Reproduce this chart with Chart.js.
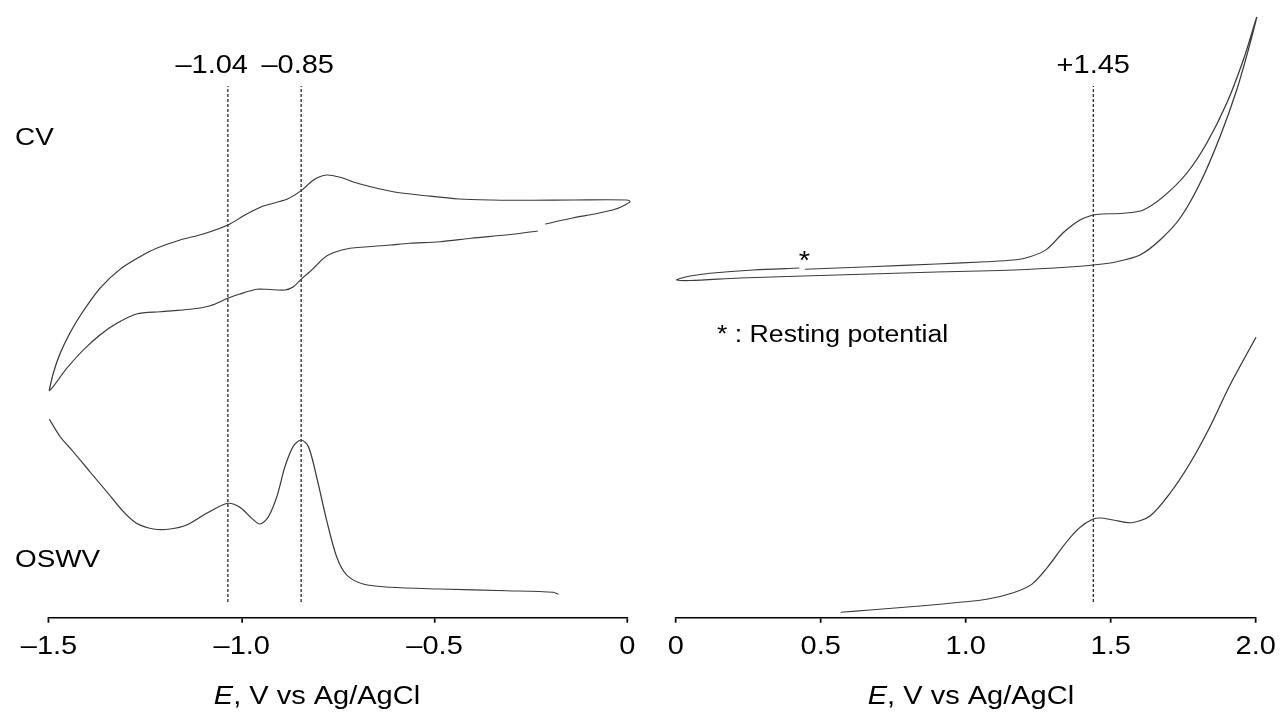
<!DOCTYPE html>
<html>
<head>
<meta charset="utf-8">
<script src="https://cdn.jsdelivr.net/npm/chart.js@4/dist/chart.umd.min.js"></script>
<style>
  body { margin: 0; background: #fff; }
  #wrap { position: relative; width: 1280px; height: 713px; }
  canvas { position: absolute; top: 0; }
</style>
</head>
<body>
<div id="wrap">
  <canvas id="neg" width="640" height="713" style="left:0;width:640px;height:713px"></canvas>
  <canvas id="pos" width="640" height="713" style="left:640px;width:640px;height:713px"></canvas>
</div>
<script>
// Valeurs (E en V vs Ag/AgCl, courant en unités arbitraires)
const cvNegE = [-0.232, -0.298, -0.405, -0.486, -0.564, -0.615, -0.719, -0.763, -0.788, -0.814, -0.846, -0.866, -0.888, -0.935, -0.961, -1.005, -1.036, -1.082, -1.134, -1.212, -1.273, -1.324, -1.368, -1.411, -1.454, -1.499,
  -1.489, -1.471, -1.446, -1.415, -1.368, -1.316, -1.264, -1.221, -1.160, -1.100, -1.036, -0.987, -0.944, -0.883, -0.846, -0.814, -0.780, -0.745, -0.693, -0.607, -0.522, -0.436, -0.351, -0.245, -0.139, -0.001, 0.007, -0.006, -0.032, -0.085, -0.139, -0.213];
const cvNegI = [38.67, 38.34, 37.94, 37.6, 37.44, 37.27, 36.94, 36.5, 35.94, 34.94, 33.84, 33.1, 32.77, 32.84, 32.84, 32.37, 31.94, 31.2, 30.84, 30.6, 30.37, 29.44, 28.27, 26.77, 24.94, 22.7,
  24.44, 26.44, 28.44, 30.44, 32.94, 34.84, 36.1, 36.94, 37.77, 38.37, 39.27, 40.37, 41.17, 41.84, 42.7, 43.77, 44.27, 44.04, 43.37, 42.6, 42.2, 41.87, 41.77, 41.74, 41.77, 41.77, 41.6, 41.27, 40.84, 40.37, 40.0, 39.37];

const swvNegE = [-1.499, -1.471, -1.437, -1.394, -1.350, -1.307, -1.273, -1.229, -1.186, -1.143, -1.091, -1.036, -1.005, -0.974, -0.953, -0.931, -0.909, -0.888, -0.866, -0.846, -0.827, -0.806, -0.780, -0.754, -0.728, -0.685, -0.615, -0.486, -0.313, -0.192, -0.179];
const swvNegI = [19.84, 18.1, 16.6, 14.6, 12.6, 10.6, 9.44, 8.87, 8.87, 9.27, 10.44, 11.44, 11.04, 9.94, 9.37, 10.1, 12.1, 15.1, 17.17, 17.77, 17.1, 14.1, 9.77, 6.1, 4.27, 3.37, 3.04, 2.87, 2.7, 2.54, 2.34];

const cvPosE = [0.4459, 0.67, 0.9, 1.0724, 1.1641, 1.2217, 1.2793, 1.339, 1.3941, 1.44, 1.469, 1.5434, 1.6124, 1.6814, 1.7621, 1.831, 1.9, 1.9572, 2.0034,
  1.9745, 1.9345, 1.8769, 1.8079, 1.739, 1.67, 1.601, 1.5207, 1.44, 1.2907, 1.1183, 0.9, 0.67, 0.44, 0.2217, 0.0493, 0.0034,
  0.0148, 0.0493, 0.1183, 0.2676, 0.4262];
const cvPosI = [34.84, 35.1, 35.37, 35.6, 35.77, 36.1, 36.84, 38.57, 39.77, 40.27, 40.37, 40.44, 40.77, 42.1, 44.44, 47.44, 51.44, 55.77, 60.04,
  56.77, 52.77, 48.1, 43.44, 39.94, 37.77, 36.27, 35.6, 35.27, 34.94, 34.72, 34.57, 34.37, 34.17, 33.97, 33.72, 33.77,
  33.92, 34.17, 34.44, 34.77, 34.97];

const swvPosE = [0.569, 0.67, 0.8424, 0.9803, 1.0724, 1.1641, 1.2276, 1.2793, 1.3483, 1.3941, 1.4379, 1.4631, 1.509, 1.5724, 1.6355, 1.7045, 1.7734, 1.8424, 1.9114, 2.001];
const swvPosI = [0.54, 0.77, 1.17, 1.54, 1.84, 2.5, 3.34, 4.94, 7.6, 9.04, 9.84, 9.97, 9.77, 9.5, 10.17, 12.44, 15.44, 19.1, 23.27, 28.04];

// lignes pointillées des pics
const negPeaks = [-1.036, -0.846];
const posPeaks = [1.44];
const peakSpan = [1.57, 53.17];

// axes
const negRange = [-1.5, 0];
const posRange = [0, 2.0];
const tickStep = 0.5;

// la figure d'origine est étirée horizontalement
const S = 1.16;
const FONT = '"Liberation Sans", Arial, Helvetica, sans-serif';
const AXIS_Y = 617.7;

function pts(xs, ys) {
    return xs.map((x, i) => ({ x: x, y: ys[i] }));
}

function courbe(xs, ys) {
    return {
        data: pts(xs, ys),
        showLine: true,
        borderColor: '#3c3c3c',
        borderWidth: 1.1,
        pointRadius: 0,
        tension: 0.3,
        clip: false
    };
}

function pointilles(x) {
    return {
        data: [{ x: x, y: peakSpan[0] }, { x: x, y: peakSpan[1] }],
        showLine: true,
        borderColor: '#111',
        borderWidth: 1,
        borderDash: [3, 2],
        pointRadius: 0,
        clip: false
    };
}

// étire tout le dessin et ajoute les textes
const etirement = {
    id: 'etirement',
    beforeDraw(chart) {
        chart.ctx.save();
        chart.ctx.scale(S, 1);
    },
    afterDraw(chart, args, opts) {
        const ctx = chart.ctx;
        const sx = chart.scales.x, sy = chart.scales.y;
        ctx.fillStyle = '#000';
        ctx.textBaseline = 'alphabetic';
        opts.notes.forEach(n => {
            ctx.font = n.size + 'px ' + FONT;
            ctx.textAlign = n.align;
            ctx.fillText(n.text, sx.getPixelForValue(n.x), sy.getPixelForValue(n.y));
        });

        // titre de l'axe avec E en italique
        const cx = sx.getPixelForValue(opts.titleAt);
        const by = chart.chartArea.bottom + 86;
        ctx.textAlign = 'left';
        ctx.font = 'italic 25px ' + FONT;
        const w1 = ctx.measureText('E').width;
        ctx.font = '25px ' + FONT;
        const w2 = ctx.measureText(', V vs Ag/AgCl').width;
        const x0 = cx - (w1 + w2) / 2;
        ctx.font = 'italic 25px ' + FONT;
        ctx.fillText('E', x0, by);
        ctx.font = '25px ' + FONT;
        ctx.fillText(', V vs Ag/AgCl', x0 + w1, by);
        ctx.restore();
    }
};

function creerGraphique(id, datasets, range, padL, padR, notes, titleAt) {
    return new Chart(document.getElementById(id), {
        type: 'scatter',
        data: { datasets: datasets },
        plugins: [etirement],
        options: {
            responsive: false,
            animation: false,
            events: [],
            layout: { padding: { top: AXIS_Y - 610, left: padL / S, right: 640 - padR / S, bottom: 0 } },
            plugins: {
                legend: { display: false },
                tooltip: { enabled: false },
                etirement: { notes: notes, titleAt: titleAt }
            },
            scales: {
                x: {
                    type: 'linear',
                    min: range[0],
                    max: range[1],
                    afterFit: s => { s.height = 713 - AXIS_Y; },
                    border: { display: true, color: '#000', width: 1.5 },
                    grid: { display: true, drawOnChartArea: false, drawTicks: true, tickLength: 5, color: '#000', lineWidth: 1.5 },
                    ticks: {
                        stepSize: tickStep,
                        padding: 9,
                        color: '#000',
                        font: { family: FONT, size: 25 },
                        maxRotation: 0,
                        callback: v => v === 0 ? '0' : v.toFixed(1).replace('-', '\u2013')
                    }
                },
                y: { type: 'linear', display: false, min: 0, max: 61 }
            }
        }
    });
}

creerGraphique('neg',
    [courbe(cvNegE, cvNegI), courbe(swvNegE, swvNegI)].concat(negPeaks.map(pointilles)),
    negRange, 49, 627.3,
    [
        { text: '\u20131.04', x: -1.078, y: 54.5, align: 'center', size: 25 },
        { text: '\u20130.85', x: -0.855, y: 54.5, align: 'center', size: 25 },
        { text: 'CV', x: -1.588, y: 47.27, align: 'left', size: 24 },
        { text: 'OSWV', x: -1.588, y: 5.07, align: 'left', size: 24 }
    ],
    -0.805);

creerGraphique('pos',
    [courbe(cvPosE, cvPosI), courbe(swvPosE, swvPosI)].concat(posPeaks.map(pointilles)),
    posRange, 675.7 - 640, 1255.7 - 640,
    [
        { text: '+1.45', x: 1.44, y: 54.5, align: 'center', size: 25 },
        { text: '*', x: 0.4434, y: 34.87, align: 'center', size: 25 },
        { text: '* : Resting potential', x: 0.94, y: 27.57, align: 'right', size: 23 }
    ],
    1.018);
</script>
</body>
</html>
